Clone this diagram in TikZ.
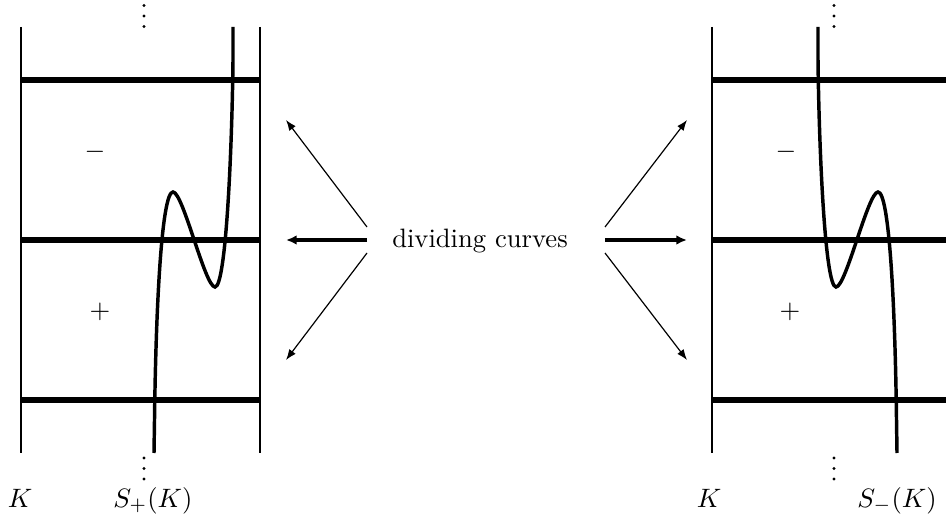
\documentclass[tikz,border=0pt]{standalone}
\usetikzlibrary{arrows.meta}
\begin{document}
\begin{tikzpicture}[x=0.3759pt,y=-0.3759pt,
  wall/.style={line width=1.1pt},
  band/.style={line width=1.9pt},
  dcurve/.style={line width=1.3pt},
  thinarr/.style={line width=0.45pt,-{Latex[length=4pt,width=3pt]}},
  thickarr/.style={line width=1.2pt,-{Latex[length=4pt,width=3.6pt]}},
  lbl/.style={inner sep=0pt},
  dotmark/.style={fill=black}]
\useasboundingbox (0,0) rectangle (946,519);
% left panel
\draw[wall] (21,27) -- (21,453);
\draw[wall] (260,27) -- (260,453);
\foreach \y in {80,240,400} \draw[band] (21,\y) -- (260,\y);
\draw[dcurve] (154,453) -- (154.5,420) .. controls (156,300) and (162,192) .. (173,192)
  .. controls (183,192) and (205,287) .. (215,287)
  .. controls (226,287) and (232,150) .. (233,60) -- (233,27);
% right panel
\draw[wall] (712,27) -- (712,453);
\foreach \y in {80,240,400} \draw[band] (712,\y) -- (946,\y);
\begin{scope}[shift={(1051,0)},xscale=-1]
\draw[dcurve] (154,453) -- (154.5,420) .. controls (156,300) and (162,192) .. (173,192)
  .. controls (183,192) and (205,287) .. (215,287)
  .. controls (226,287) and (232,150) .. (233,60) -- (233,27);
\end{scope}
% vertical dots
\foreach \x in {144,834} {
  \foreach \y in {5.5,16,26.5,458,468.5,479}
    \fill[dotmark] (\x,\y) circle[radius=0.58pt];
}
% signs
\node[lbl] (ml) at (95,152) {$-$};
\node[lbl] (pl) at (100,312) {$+$};
\node[lbl] (mr) at (786,152) {$-$};
\node[lbl] (pr) at (790,312) {$+$};
% labels
\node[lbl,anchor=base] (Kl) at (20,507) {$K$};
\node[lbl,anchor=base] (Sp) at (153,507) {$S_+(K)$};
\node[lbl,anchor=base] (Kr) at (709,507) {$K$};
\node[lbl,anchor=base] (Sm) at (897,507) {$S_-(K)$};
% centre
\node[lbl,anchor=base] (dc) at (480,248) {dividing curves};
\coordinate (la1) at (367,227);
\coordinate (la2) at (367,240);
\coordinate (la3) at (367,253);
\coordinate (lt1) at (286,120);
\coordinate (lt2) at (286,240);
\coordinate (lt3) at (286,360);
\coordinate (ra1) at (605,227);
\coordinate (ra2) at (605,240);
\coordinate (ra3) at (605,253);
\coordinate (rt1) at (687,120);
\coordinate (rt2) at (687,240);
\coordinate (rt3) at (687,360);
\draw[thinarr] (la1) -- (lt1);
\draw[thickarr] (la2) -- (lt2);
\draw[thinarr] (la3) -- (lt3);
\draw[thinarr] (ra1) -- (rt1);
\draw[thickarr] (ra2) -- (rt2);
\draw[thinarr] (ra3) -- (rt3);
\end{tikzpicture}
\end{document}
